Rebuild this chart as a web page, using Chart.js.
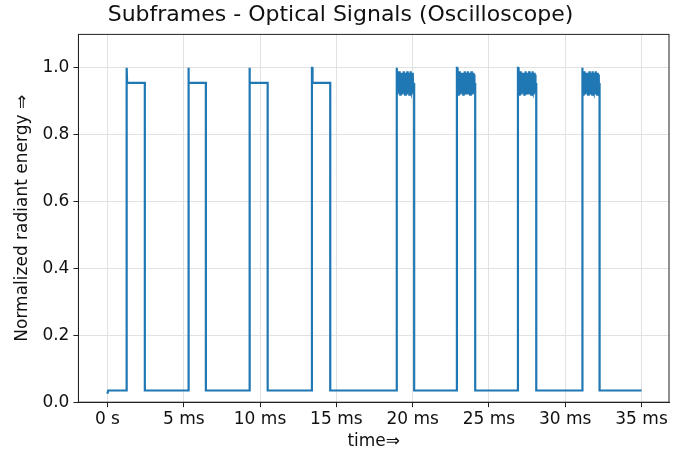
<!DOCTYPE html>
<html>
<head>
<meta charset="utf-8">
<script src="https://cdn.jsdelivr.net/npm/chart.js@4"></script>
<style>
  html, body { margin: 0; padding: 0; background: #fff; }
  #wrap { width: 677px; height: 455px; }
</style>
</head>
<body>
<div id="wrap"><canvas id="c"></canvas></div>
<script>
// pulse on/off times (ms)
const pulseStarts = [1.25, 5.3, 9.3, 13.4, 18.95, 22.9, 26.9, 31.1];
const pulseEnds   = [2.45, 6.45, 10.5, 14.6, 20.1, 24.1, 28.1, 32.25];
const noisyPulse  = [false, false, false, false, true, true, true, true];
const lowLevel = 0.035;
const highLevel = 0.955;
const spikeLevel = 1.0;
// ripple on the noisy tops, typed by eye
const ripple = [0.03, -0.035, 0.025, -0.03, 0.035, -0.025, 0.03, -0.035, 0.02, -0.03,
  0.03, -0.025, 0.025, -0.035, 0.03, -0.03, 0.035, -0.02, 0.025, -0.035,
  0.03, -0.03, 0.02, -0.035, 0.035, -0.025, 0.03, -0.03, 0.025, -0.035,
  0.03, -0.025, 0.035, -0.03, 0.02, -0.035, 0.03, -0.03, 0.025, -0.03];
const tStart = 0, tEnd = 35;
const xTicks = [0, 5, 10, 15, 20, 25, 30, 35];
const yTicks = [0, 0.2, 0.4, 0.6, 0.8, 1.0];

const pts = [{x: tStart, y: lowLevel - 0.01}, {x: tStart + 0.05, y: lowLevel}];
pulseStarts.forEach((s, i) => {
  const e = pulseEnds[i];
  pts.push({x: s, y: lowLevel});
  pts.push({x: s + 0.001, y: spikeLevel});
  pts.push({x: s + 0.02, y: spikeLevel});
  pts.push({x: s + 0.04, y: highLevel});
  if (noisyPulse[i]) {
    const n = ripple.length;
    ripple.forEach((r, k) => {
      pts.push({x: s + 0.05 + (e - s - 0.1) * k / (n - 1), y: highLevel + r});
    });
  }
  pts.push({x: e, y: highLevel});
  pts.push({x: e + 0.001, y: lowLevel});
});
pts.push({x: tEnd, y: lowLevel});

const frame = {
  id: 'frame',
  afterDraw(chart) {
    const a = chart.chartArea, g = chart.ctx;
    g.save();
    g.strokeStyle = '#222';
    g.lineWidth = 1;
    g.strokeRect(a.left, a.top, a.right - a.left, a.bottom - a.top);
    g.restore();
  }
};

const tickFont = { family: 'DejaVu Sans', size: 17 };

new Chart(document.getElementById('c'), {
  type: 'line',
  data: { datasets: [{ data: pts, borderColor: '#1f77b4', borderWidth: 2.2,
    pointRadius: 0, tension: 0, fill: false }] },
  options: {
    responsive: true, maintainAspectRatio: false, animation: false,
    layout: { padding: { top: 0, right: 8, left: 12, bottom: 3 } },
    plugins: {
      legend: { display: false },
      tooltip: { enabled: false },
      title: { display: true, text: 'Subframes - Optical Signals (Oscilloscope)',
        color: '#111', font: { family: 'DejaVu Sans', size: 22, weight: 'normal' },
        padding: { top: 2, bottom: 6 } }
    },
    scales: {
      x: {
        type: 'linear', min: -1.9, max: 36.8,
        afterBuildTicks: ax => { ax.ticks = xTicks.map(v => ({value: v})); },
        ticks: { color: '#111', font: tickFont, padding: 2,
          maxRotation: 0, callback: v => v === 0 ? '0 s' : v + ' ms' },
        grid: { color: '#e2e2e2', tickColor: '#222', tickLength: 5 },
        border: { color: '#222' },
        title: { display: true, text: 'time\u21D2', color: '#111',
          font: tickFont, padding: { top: 0, bottom: 0 } }
      },
      y: {
        min: 0, max: 1.1,
        afterBuildTicks: ax => { ax.ticks = yTicks.map(v => ({value: v})); },
        ticks: { color: '#111', font: tickFont, padding: 4,
          callback: v => v.toFixed(1) },
        grid: { color: '#e2e2e2', tickColor: '#222', tickLength: 5 },
        border: { color: '#222' },
        title: { display: true, text: 'Normalized radiant energy \u21D2', color: '#111',
          font: tickFont, padding: { top: 0, bottom: 6 } }
      }
    }
  },
  plugins: [frame]
});
</script>
</body>
</html>
